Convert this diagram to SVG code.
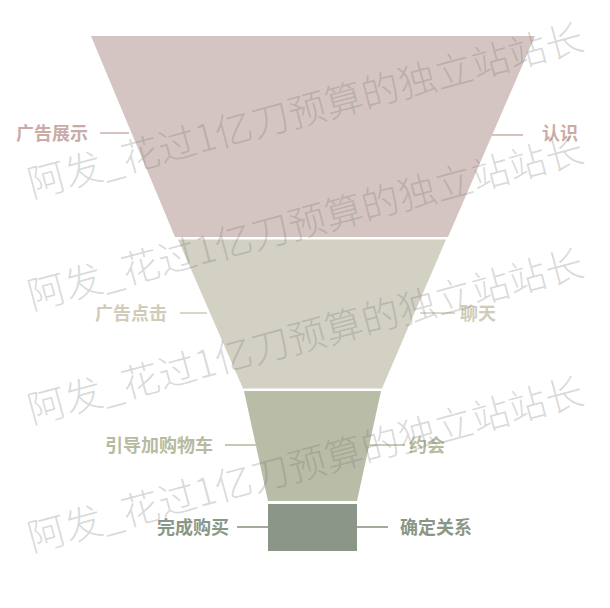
<svg xmlns="http://www.w3.org/2000/svg" width="610" height="608" viewBox="0 0 610 608">
  <style>
    .lbl { font-family: "Noto Sans CJK SC", "Noto Sans", sans-serif; font-size: 18px; font-weight: 700; }
    .l1 { fill: #c9aca7; }
    .l2 { fill: #d0ccb8; }
    .l3 { fill: #b6ba9f; }
    .l4 { fill: #8a9787; }
    .c1 { stroke: #cdb3ae; }
    .c2 { stroke: #d0ccb8; }
    .c3 { stroke: #b6ba9f; }
    .c4 { stroke: #8a9787; }
    .conn line { stroke-width: 1.6; fill: none; }
    .wm { font-family: "Noto Sans CJK SC", "Noto Sans", sans-serif; font-size: 38px; font-weight: 300; fill: #6e6e6e; fill-opacity: 0.26; }
  </style>
  <rect x="0" y="0" width="610" height="608" fill="#ffffff"/>

  <g id="stage1">
    <polygon points="91,36 535,36 448,237 175,237" fill="#d4c5c2"/>
    <text class="lbl l1" x="88" y="140" text-anchor="end">广告展示</text>
    <text class="lbl l1" x="542" y="140">认识</text>
  </g>
  <g id="stage2">
    <polygon points="178,239.5 446,239.5 382,388.5 243,388.5" fill="#d2d1c3"/>
    <text class="lbl l2" x="167" y="320" text-anchor="end">广告点击</text>
    <text class="lbl l2" x="460" y="320">聊天</text>
  </g>
  <g id="stage3">
    <polygon points="244,391 381,391 357,501 268,501" fill="#b9bca6"/>
    <text class="lbl l3" x="213" y="452" text-anchor="end">引导加购物车</text>
    <text class="lbl l3" x="409" y="452">约会</text>
  </g>
  <g id="stage4">
    <rect x="268" y="504" width="89" height="47" fill="#8b9688"/>
    <text class="lbl l4" x="229" y="534" text-anchor="end">完成购买</text>
    <text class="lbl l4" x="400" y="534">确定关系</text>
  </g>

  <g id="connectors" class="conn">
    <line class="c1" x1="100" y1="133" x2="129" y2="133"/>
    <line class="c1" x1="492" y1="135" x2="523" y2="135"/>
    <line class="c2" x1="180" y1="313" x2="207" y2="313"/>
    <line class="c2" x1="420" y1="313" x2="455" y2="313"/>
    <line class="c3" x1="225" y1="445" x2="256" y2="445"/>
    <line class="c3" x1="369" y1="445" x2="405" y2="445"/>
    <line class="c4" x1="237" y1="527" x2="268" y2="527"/>
    <line class="c4" x1="357" y1="527" x2="388" y2="527"/>
  </g>

  <g id="watermark">
    <text class="wm" transform="translate(32,198) rotate(-15)">阿发_花过1亿刀预算的独立站站长</text>
    <text class="wm" transform="translate(32,310) rotate(-15)">阿发_花过1亿刀预算的独立站站长</text>
    <text class="wm" transform="translate(32,424) rotate(-15)">阿发_花过1亿刀预算的独立站站长</text>
    <text class="wm" transform="translate(32,552) rotate(-15)">阿发_花过1亿刀预算的独立站站长</text>
  </g>
</svg>
